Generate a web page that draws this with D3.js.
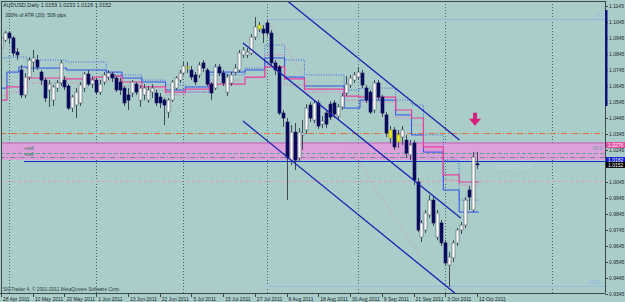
<!DOCTYPE html>
<html><head><meta charset="utf-8">
<script src="https://cdn.jsdelivr.net/npm/d3@7"></script>
<style>body{margin:0;background:#aacdca;} svg{display:block}</style>
</head><body><svg id="c" width="625" height="302"></svg>
<script>
// ---------- DATA ----------
const opens=[1.0882,1.0932,1.0976,1.0945,1.0857,1.0745,1.0589,1.0701,1.0795,1.0807,1.0732,1.0682,1.0620,1.0557,1.0632,1.0664,1.0682,1.0645,1.0507,1.0526,1.0539,1.0632,1.0720,1.0657,1.0682,1.0607,1.0670,1.0701,1.0720,1.0695,1.0670,1.0632,1.0589,1.0601,1.0657,1.0557,1.0589,1.0557,1.0607,1.0601,1.0576,1.0557,1.0482,1.0557,1.0632,1.0682,1.0726,1.0757,1.0745,1.0714,1.0714,1.0789,1.0745,1.0657,1.0632,1.0764,1.0726,1.0607,1.0664,1.0732,1.0745,1.0839,1.0839,1.0851,1.0951,1.1001,1.1001,1.1039,1.0976,1.0789,1.0764,1.0476,1.0420,1.0182,1.0357,1.0195,1.0339,1.0370,1.0526,1.0432,1.0539,1.0407,1.0476,1.0532,1.0539,1.0457,1.0514,1.0601,1.0651,1.0682,1.0701,1.0726,1.0632,1.0607,1.0495,1.0664,1.0576,1.0464,1.0370,1.0370,1.0339,1.0326,1.0307,1.0214,1.0289,1.0045,0.9701,0.9745,0.9839,0.9932,0.9701,0.9789,0.9664,0.9526,0.9570,0.9664,0.9745,0.9776,0.9995,0.9870,1.0159];
const highs=[1.0982,1.0989,1.0989,1.0957,1.0882,1.0776,1.0726,1.0826,1.0870,1.0839,1.0745,1.0695,1.0682,1.0651,1.0682,1.0807,1.0707,1.0657,1.0589,1.0632,1.0670,1.0732,1.0745,1.0707,1.0695,1.0682,1.0732,1.0745,1.0732,1.0707,1.0695,1.0645,1.0632,1.0682,1.0670,1.0651,1.0657,1.0645,1.0657,1.0620,1.0601,1.0570,1.0570,1.0682,1.0707,1.0745,1.0795,1.0795,1.0770,1.0732,1.0795,1.0807,1.0757,1.0670,1.0782,1.0782,1.0745,1.0720,1.0732,1.0782,1.0870,1.0889,1.0882,1.0970,1.1076,1.1045,1.1026,1.1058,1.0995,1.0807,1.0776,1.0495,1.0445,1.0401,1.0414,1.0382,1.0432,1.0532,1.0545,1.0557,1.0557,1.0457,1.0495,1.0551,1.0557,1.0532,1.0601,1.0707,1.0714,1.0732,1.0764,1.0745,1.0651,1.0620,1.0682,1.0682,1.0589,1.0482,1.0395,1.0389,1.0370,1.0395,1.0339,1.0307,1.0307,1.0070,0.9807,0.9870,0.9964,0.9957,0.9870,0.9807,0.9682,0.9607,0.9682,0.9757,0.9795,0.9951,1.0020,1.0232,1.0233];
const lows=[1.0870,1.0920,1.0907,1.0832,1.0807,1.0570,1.0570,1.0682,1.0732,1.0745,1.0651,1.0545,1.0514,1.0520,1.0607,1.0645,1.0620,1.0495,1.0482,1.0445,1.0520,1.0607,1.0645,1.0632,1.0589,1.0589,1.0651,1.0682,1.0670,1.0607,1.0589,1.0520,1.0495,1.0576,1.0589,1.0514,1.0557,1.0539,1.0570,1.0520,1.0507,1.0401,1.0445,1.0545,1.0620,1.0664,1.0714,1.0726,1.0682,1.0651,1.0695,1.0732,1.0645,1.0557,1.0620,1.0707,1.0645,1.0582,1.0645,1.0714,1.0732,1.0820,1.0820,1.0839,1.0933,1.0982,1.0914,1.0957,1.0770,1.0714,1.0464,1.0389,0.9932,1.0151,1.0120,1.0170,1.0245,1.0345,1.0420,1.0414,1.0376,1.0382,1.0382,1.0432,1.0445,1.0439,1.0495,1.0582,1.0632,1.0664,1.0682,1.0632,1.0539,1.0470,1.0476,1.0557,1.0451,1.0326,1.0289,1.0245,1.0257,1.0276,1.0195,1.0182,1.0026,0.9732,0.9670,0.9726,0.9820,0.9770,0.9682,0.9645,0.9520,0.9389,0.9545,0.9645,0.9720,0.9757,0.9870,0.9857,1.0126];
const closes=[1.0945,1.0976,1.0945,1.0851,1.0839,1.0589,1.0701,1.0807,1.0820,1.0764,1.0682,1.0570,1.0657,1.0639,1.0664,1.0789,1.0639,1.0507,1.0576,1.0607,1.0651,1.0720,1.0657,1.0682,1.0607,1.0657,1.0714,1.0726,1.0695,1.0620,1.0620,1.0539,1.0557,1.0670,1.0607,1.0632,1.0632,1.0620,1.0632,1.0539,1.0539,1.0526,1.0557,1.0670,1.0695,1.0726,1.0770,1.0764,1.0701,1.0670,1.0776,1.0757,1.0657,1.0601,1.0764,1.0726,1.0664,1.0701,1.0714,1.0757,1.0851,1.0870,1.0857,1.0951,1.1014,1.1026,1.0976,1.0976,1.0789,1.0745,1.0476,1.0445,1.0195,1.0357,1.0182,1.0357,1.0351,1.0507,1.0445,1.0539,1.0395,1.0426,1.0407,1.0451,1.0470,1.0514,1.0582,1.0657,1.0695,1.0714,1.0732,1.0651,1.0557,1.0482,1.0664,1.0576,1.0476,1.0351,1.0320,1.0264,1.0295,1.0370,1.0226,1.0276,1.0057,0.9745,0.9789,0.9851,0.9932,0.9789,0.9851,0.9664,0.9539,0.9576,0.9664,0.9745,0.9776,0.9932,0.9951,1.0201,1.0152];
const highlightBars=[47,65,98,100];

const xLabels=["28 Apr 2011","10 May 2011","20 May 2011","1 Jun 2011","13 Jun 2011","22 Jun 2011","5 Jul 2011","15 Jul 2011","27 Jul 2011","8 Aug 2011","18 Aug 2011","30 Aug 2011","9 Sep 2011","21 Sep 2011","3 Oct 2011","12 Oct 2011"];
const xLabelBars=[0,8,16,24,32,40,48,56,64,72,80,88,96,104,112,120];
const monthBars=[2,24,46,67,90,112,139];
const priceTicks=[1.1145,1.1045,1.0945,1.0845,1.0745,1.0645,1.0545,1.0445,1.0345,1.0245,1.0145,1.0045,0.9945,0.9845,0.9745,0.9645,0.9545,0.9445,0.9345];

// step indicator lines (segment start bar + level)
const segStart=[0,2,5,7,17,24,27,31,36,42,47,53,62,67,72,77,87,91,100,104,107,112,116];
const pinkSolid=[1.0557,1.0639,1.0639,1.0695,1.0689,1.0701,1.0707,1.0670,1.0639,1.0607,1.0626,1.0657,1.0701,1.0764,1.0689,1.0626,1.0582,1.0576,1.0495,1.0445,1.0264,1.0089,1.0045];
const blueSolid=[1.0632,1.0732,1.0764,1.0757,1.0745,1.0745,1.0732,1.0695,1.0670,1.0620,1.0639,1.0732,1.0745,1.0820,1.0701,1.0645,1.0507,1.0557,1.0464,1.0339,1.0232,0.9995,0.9857];
const blueDotted=[1.0820,1.0826,1.0826,1.0807,1.0795,1.0795,1.0714,1.0714,1.0682,1.0651,1.0607,1.0714,1.0757,1.0901,1.0807,1.0714,1.0620,1.0632,1.0557,1.0526,1.0339,1.0182,0.9932];
const pinkDotted=[1.0589,1.0607,1.0620,1.0664,1.0664,1.0682,1.0682,1.0645,1.0620,1.0589,1.0607,1.0682,1.0695,1.0839,1.0651,1.0607,1.0557,1.0545,1.0445,1.0401,1.0245,1.0057,1.0026];

// channel lines: [bar0, price0, bar1, price1]
const channelUpper=[72.5,1.1170,115.6,1.0308];
const channelMid=[61,1.0914,115.9,0.9820];
const channelLow=[61,1.0426,114.4,0.9351];
const sarLine=[67,1.1070,105.5,0.9582];

// horizontal levels
const bandTop=1.0289, bandBottom=1.0183;
const orangeLevel=1.0350, fib50=1.0226, grayLevel=1.0201, blueLevel=1.0179, pinkLevel=1.0051;
const fib0=1.1064, fib100=0.9395, fibStartBar=67;
const arrowBar=119.5, arrowPrice=1.0478;
const scrollTop=1.1120, scrollBottom=1.0520;
const boxPrices=[1.0276,1.0182,1.0152];

// ---------- DRAW ----------
const svg=d3.select('#c');
const W=625,H=302, R=605, B=293;
const x=d3.scaleLinear().domain([0,120]).range([1,477]);
const y=d3.scaleLinear().domain([1.1145,0.9345]).range([6,294]);
const FONT='"Liberation Sans", Arial, sans-serif';

svg.append('rect').attr('width',W).attr('height',H).attr('fill','#aacdca');
svg.append('clipPath').attr('id','plot').append('rect').attr('x',1).attr('y',1).attr('width',R-1).attr('height',B-1);
const g=svg.append('g').attr('clip-path','url(#plot)');

// month grid
g.selectAll('.mg').data(monthBars).join('line')
 .attr('x1',d=>Math.round(x(d))+0.5).attr('x2',d=>Math.round(x(d))+0.5).attr('y1',1).attr('y2',B)
 .attr('stroke','#4a6a70').attr('stroke-width',1).attr('stroke-dasharray','1,2');

// pink band
g.append('rect').attr('x',0).attr('width',R).attr('y',y(bandTop)).attr('height',y(bandBottom)-y(bandTop)).attr('fill','#dca0da');
g.append('line').attr('x1',0).attr('x2',R).attr('y1',y(bandTop)).attr('y2',y(bandTop)).attr('stroke','#c060b8').attr('stroke-width',1);

// horizontal lines
function hline(p,col,dash,x0,w){g.append('line').attr('x1',x0).attr('x2',R).attr('y1',Math.round(y(p))+0.5).attr('y2',Math.round(y(p))+0.5).attr('stroke',col).attr('stroke-width',w||1).attr('stroke-dasharray',dash);}
hline(orangeLevel,'#e0703a','6,2,1,2',0);
hline(fib50,'#5aa88e','4,2',0);
hline(grayLevel,'#7a8a8a','5,2,1,2',0);
hline(blueLevel,'#1a2ad0',null,24,1.2);
hline(pinkLevel,'#e0a0b0','3,3',0);
hline(fib0,'#8fb4e0',null,x(fibStartBar));
hline(fib100,'#8fb4e0','2,1',x(fibStartBar));

// step lines
function stepPts(levels){const pts=segStart.map((s,k)=>[x(s-0.5),y(levels[k])]);pts.push([x(120.5),y(levels[levels.length-1])]);return pts;}
const sl=d3.line().curve(d3.curveStepAfter);
g.append('path').attr('d',sl(stepPts(blueDotted))).attr('fill','none').attr('stroke','#3a6ae0').attr('stroke-width',1).attr('stroke-dasharray','1,1.5');
g.append('path').attr('d',sl(stepPts(pinkDotted))).attr('fill','none').attr('stroke','#e070c0').attr('stroke-width',1).attr('stroke-dasharray','1,1.5');
g.append('path').attr('d',sl(stepPts(blueSolid))).attr('fill','none').attr('stroke','#3050e8').attr('stroke-width',1);
g.append('path').attr('d',sl(stepPts(pinkSolid))).attr('fill','none').attr('stroke','#e8409a').attr('stroke-width',1.2);

// sar-like dotted diagonal
g.append('line').attr('x1',x(sarLine[0])).attr('y1',y(sarLine[1])).attr('x2',x(sarLine[2])).attr('y2',y(sarLine[3]))
 .attr('stroke','#d890b0').attr('stroke-width',1).attr('stroke-dasharray','1,2');

// candles
const bars=d3.range(opens.length).map(i=>({i,o:opens[i],h:highs[i],l:lows[i],c:closes[i]}));
const cg=g.append('g');
cg.selectAll('.w').data(bars).join('line')
 .attr('x1',d=>Math.round(x(d.i))+0.5).attr('x2',d=>Math.round(x(d.i))+0.5)
 .attr('y1',d=>y(d.h)).attr('y2',d=>y(d.l)).attr('stroke','#3c4a58').attr('stroke-width',1);
cg.selectAll('.b').data(bars).join('rect')
 .attr('x',d=>Math.round(x(d.i))-1).attr('width',3)
 .attr('y',d=>y(Math.max(d.o,d.c))).attr('height',d=>Math.max(1,Math.abs(y(d.o)-y(d.c))))
 .attr('fill',d=>highlightBars.includes(d.i)?'#f0f020':(d.c>=d.o?'#ffffff':'#0a0a5c'))
 .attr('stroke',d=>highlightBars.includes(d.i)?'#a0a020':(d.c>=d.o?'#50606a':'#0a0a5c')).attr('stroke-width',0.6);

// channel lines
[channelUpper,channelMid,channelLow].forEach(c=>{
 g.append('line').attr('x1',x(c[0])).attr('y1',y(c[1])).attr('x2',x(c[2])).attr('y2',y(c[3]))
  .attr('stroke','#1a20b0').attr('stroke-width',1.3);
});

// arrow
const ax=x(arrowBar), ay=y(arrowPrice);
g.append('path').attr('d',`M${ax-2},${ay} h4 v6 h4 l-6,7 l-6,-7 h4 z`).attr('fill','#d8207c');

// texts
svg.append('text').attr('x',3).attr('y',7).attr('font-family',FONT).attr('font-size',5.4).attr('fill','#1a2a2a')
 .text('AUDUSD,Daily  1.0159 1.0233 1.0126 1.0152');
svg.append('text').attr('x',5).attr('y',17).attr('font-family',FONT).attr('font-size',5).attr('fill','#1a2a2a')
 .text('300% of ATR (20):   509 pips');
svg.append('text').attr('x',24).attr('y',150).attr('font-family',FONT).attr('font-size',4.5).attr('fill','#2a7a4a').text('+sell');
svg.append('text').attr('x',24).attr('y',156).attr('font-family',FONT).attr('font-size',4.5).attr('fill','#2a7a4a').text('+sell');
svg.append('text').attr('x',496).attr('y',169).attr('font-family',FONT).attr('font-size',5).attr('fill','#c4d8da').text('+582.57  (Sp. 3)');
svg.append('text').attr('x',597).attr('y',17).attr('font-family',FONT).attr('font-size',4.5).attr('fill','#8fb4e0').text('0.0');
svg.append('text').attr('x',593).attr('y',150).attr('font-family',FONT).attr('font-size',4.5).attr('fill','#5aa8a0').text('50.0');
svg.append('text').attr('x',589).attr('y',284).attr('font-family',FONT).attr('font-size',4.5).attr('fill','#8fb4e0').text('100.0');
svg.append('text').attr('x',3).attr('y',291).attr('font-family',FONT).attr('font-size',4.8).attr('fill','#2a3a3a')
 .text('SIGTrader 4, © 2001-2011 MetaQuotes Software Corp.');

// frame
svg.append('line').attr('x1',1.5).attr('x2',1.5).attr('y1',1).attr('y2',B).attr('stroke','#3a4a4a');
svg.append('line').attr('x1',1).attr('x2',R).attr('y1',1.5).attr('y2',1.5).attr('stroke','#3a4a4a');
svg.append('line').attr('x1',R+0.5).attr('x2',R+0.5).attr('y1',1).attr('y2',B).attr('stroke','#3a4a4a');
svg.append('line').attr('x1',0).attr('x2',R).attr('y1',B+0.5).attr('y2',B+0.5).attr('stroke','#3a4a4a');

// right axis
const ra=svg.append('g');
ra.selectAll('line').data(priceTicks).join('line').attr('x1',R).attr('x2',R+3).attr('y1',d=>Math.round(y(d))+0.5).attr('y2',d=>Math.round(y(d))+0.5).attr('stroke','#3a4a4a');
ra.selectAll('text').data(priceTicks).join('text').attr('x',R+4).attr('y',d=>y(d)+1.9).attr('font-family',FONT).attr('font-size',5).attr('fill','#1a2a2a').text(d=>d.toFixed(4));
svg.append('rect').attr('x',R).attr('width',2.5).attr('y',y(scrollTop)).attr('height',y(scrollBottom)-y(scrollTop)).attr('fill','#10107a');
// price boxes
const boxCols=['#e050a0','#1020d0','#000000'];
boxPrices.forEach((p,k)=>{
 svg.append('rect').attr('x',R+1).attr('y',y(p)-3).attr('width',19).attr('height',6).attr('fill',boxCols[k]);
 svg.append('text').attr('x',R+3).attr('y',y(p)+1.9).attr('font-family',FONT).attr('font-size',5).attr('fill','#ffffff').text(p.toFixed(4));
});

// bottom axis
const ba=svg.append('g');
ba.selectAll('line').data(xLabelBars).join('line').attr('x1',d=>Math.round(x(d))+0.5).attr('x2',d=>Math.round(x(d))+0.5).attr('y1',B).attr('y2',B+4).attr('stroke','#3a4a4a');
ba.selectAll('text').data(xLabelBars).join('text').attr('x',d=>x(d)+2).attr('y',B+7.5).attr('font-family',FONT).attr('font-size',5).attr('fill','#1a2a2a').text((d,k)=>xLabels[k]);
</script></body></html>
